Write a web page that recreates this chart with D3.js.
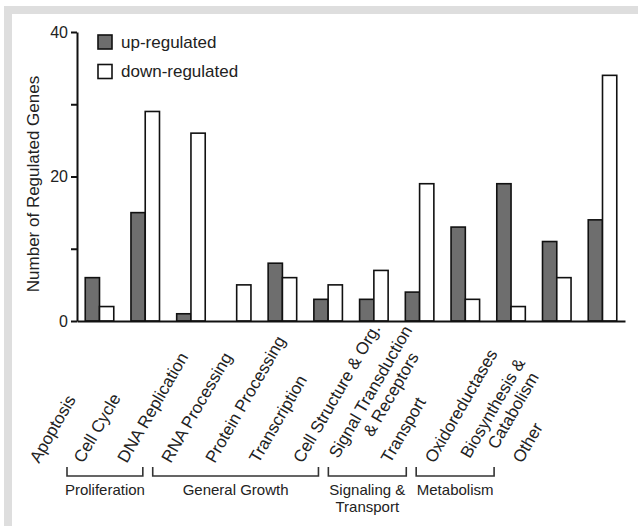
<!DOCTYPE html>
<html>
<head>
<meta charset="utf-8">
<script src="https://cdn.jsdelivr.net/npm/d3@7"></script>
<style>
  body { margin: 0; background: #fff; }
  svg { display: block; font-family: "Liberation Sans", Arial, sans-serif; }
</style>
</head>
<body>
<svg id="chart" width="638" height="526"></svg>
<script>
// regulated gene counts per functional category
const categories = ["Apoptosis", "Cell Cycle", "DNA Replication", "RNA Processing",
    "Protein Processing", "Transcription", "Cell Structure & Org.",
    "Signal Transduction\n& Receptors", "Transport", "Oxidoreductases",
    "Biosynthesis &\nCatabolism", "Other"];
const upValues = [6, 15, 1, 0, 8, 3, 3, 4, 13, 19, 11, 14];
const downValues = [2, 29, 26, 5, 6, 5, 7, 19, 3, 2, 6, 34];
const seriesNames = ["up-regulated", "down-regulated"];
const yTicks = [0, 10, 20, 30, 40];
const yTickLabels = [0, 20, 40];
const groupNames = ["Proliferation", "General Growth", "Signaling &\nTransport", "Metabolism"];
const groupFirst = [0, 3, 7, 9];
const groupLast = [2, 6, 8, 10];

var svg = d3.select('#chart');

// light grey frame (top and left edges visible)
svg.append('rect')
    .attr('x', 8).attr('y', 10)
    .attr('width', 700).attr('height', 600)
    .attr('fill', 'none')
    .attr('stroke', '#dedede')
    .attr('stroke-width', 8);

var x = d3.scaleBand()
    .domain(categories)
    .range([77, 625])
    .paddingInner(0.376)
    .paddingOuter(0.18);

var xSub = d3.scaleBand()
    .domain(seriesNames)
    .range([0, x.bandwidth()]);

var y = d3.scaleLinear()
    .domain([0, 40])
    .range([321, 32]);

// label anchors run a little tighter than the bars
var xLabel = d3.scalePoint()
    .domain(categories)
    .range([39, 522]);

var fills = { "up-regulated": "#6e6e6e", "down-regulated": "#ffffff" };

var rows = categories.map((c, i) => ({ cat: c, vals: [
    { key: seriesNames[0], value: upValues[i] },
    { key: seriesNames[1], value: downValues[i] }
]}));

var gBars = svg.append('g');
gBars.selectAll('g')
    .data(rows)
    .enter().append('g')
    .attr('transform', d => `translate(${x(d.cat)},0)`)
    .selectAll('rect')
    .data(d => d.vals.filter(v => v.value > 0))
    .enter().append('rect')
    .attr('x', d => xSub(d.key))
    .attr('y', d => y(d.value))
    .attr('width', xSub.bandwidth())
    .attr('height', d => y(0) - y(d.value))
    .attr('fill', d => fills[d.key])
    .attr('stroke', '#111')
    .attr('stroke-width', 1.6);

// axes
var yAxis = svg.append('g')
    .attr('transform', 'translate(77,0)')
    .call(d3.axisLeft(y)
        .tickValues(yTicks)
        .tickFormat(d => yTickLabels.includes(d) ? d : '')
        .tickSize(6)
        .tickSizeOuter(0)
        .tickPadding(3));
yAxis.selectAll('path, line').attr('stroke', '#111').attr('stroke-width', 2);
yAxis.selectAll('text').attr('font-size', 16).attr('fill', '#222')
    .attr('font-family', '"Liberation Sans", Arial, sans-serif');

var xAxis = svg.append('g')
    .attr('transform', `translate(0,${y(0)})`)
    .call(d3.axisBottom(x).tickSize(0).tickSizeOuter(0).tickFormat(''));
xAxis.select('.domain').attr('stroke', '#111').attr('stroke-width', 2);

svg.append('text')
    .attr('transform', 'translate(39,184) rotate(-90)')
    .attr('text-anchor', 'middle')
    .attr('font-size', 17)
    .attr('fill', '#222')
    .text('Number of Regulated Genes');

// legend
var legend = svg.append('g').selectAll('g')
    .data(seriesNames)
    .enter().append('g')
    .attr('transform', (d, i) => `translate(98,${35 + i * 29.5})`);
legend.append('rect')
    .attr('width', 14).attr('height', 14)
    .attr('fill', d => fills[d])
    .attr('stroke', '#111')
    .attr('stroke-width', 1.6);
legend.append('text')
    .attr('x', 23).attr('y', 12.5)
    .attr('font-size', 17)
    .attr('fill', '#222')
    .text(d => d);

// rotated category labels; two-line labels are centred on the anchor
var labelY = 464;
var lineGap = 19;
var labels = svg.append('g').selectAll('text')
    .data(categories)
    .enter().append('text')
    .attr('transform', d => `translate(${xLabel(d)},${labelY}) rotate(-60)`)
    .attr('font-size', 17)
    .attr('fill', '#222');
labels.each(function(d) {
    var lines = d.split('\n');
    var t = d3.select(this);
    var y0 = -(lines.length - 1) * lineGap / 2;
    var first = t.append('tspan').attr('x', 0).attr('y', y0).text(lines[0]);
    if (lines.length > 1) {
        var w1 = first.node().getComputedTextLength();
        var second = t.append('tspan').attr('y', y0 + lineGap).text(lines[1]);
        var w2 = second.node().getComputedTextLength();
        second.attr('x', (w1 - w2) / 2 + 8);
    }
});

// group brackets
var groups = groupNames.map((g, i) => {
    var left = Math.max(xLabel(categories[groupFirst[i]]) - 18, x.range()[0] - 10);
    var right = xLabel(categories[groupLast[i]]) + 16;
    return { name: g, left: left, right: right };
});

var gGroups = svg.append('g');
gGroups.selectAll('path')
    .data(groups)
    .enter().append('path')
    .attr('d', d => `M${d.left},467V476H${d.right}V467`)
    .attr('fill', 'none')
    .attr('stroke', '#333')
    .attr('stroke-width', 1.6);

gGroups.selectAll('text')
    .data(groups)
    .enter().append('text')
    .attr('text-anchor', 'middle')
    .attr('font-size', 15)
    .attr('fill', '#222')
    .each(function(d) {
        var t = d3.select(this);
        d.name.split('\n').forEach((line, k) => {
            t.append('tspan')
                .attr('x', (d.left + d.right) / 2)
                .attr('y', 495 + k * 17)
                .text(line);
        });
    });
</script>
</body>
</html>
